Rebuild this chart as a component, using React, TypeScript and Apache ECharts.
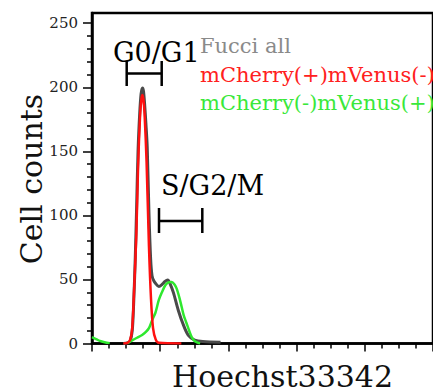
import React, { useEffect, useRef } from "react";
import * as echarts from "echarts";

// Hoechst33342 channel positions (arbitrary units) and cell counts
const grayX = [92, 104, 112, 118, 122, 127, 131, 135, 140, 144, 148, 151, 154, 158, 162, 167, 172, 176, 181, 186, 196, 207, 214, 222, 230, 239, 253, 268, 282, 301, 325, 377];
const grayY = [0, 0.5, 2, 10, 30, 68, 108, 150, 180, 195, 199.5, 197, 188, 172, 153, 102, 66, 53, 49, 47, 44.5, 46.5, 48.5, 49.5, 46, 39.5, 26, 14.5, 6.6, 2.7, 1.5, 1];

const redX = [92, 104, 112, 118, 124, 130, 135, 141, 145, 148, 151, 154, 160, 167, 173, 179, 187, 196, 262];
const redY = [0, 0.5, 3, 12, 45, 85, 137, 178, 191, 194, 190, 180, 142, 76, 35, 12, 3, 0.5, 0];

const greenX = [0, 12, 23, 37, 52, 60, 104, 118, 132, 147, 158, 167, 176, 186, 196, 205, 215, 224, 234, 242, 248, 256, 263, 269, 277, 285, 292, 299, 308, 317];
const greenY: (number | null)[] = [5, 3.5, 2, 1, 0.3, null, 0.3, 2.5, 4.5, 6.6, 9, 12, 18, 24, 34, 40, 45.5, 47.7, 48, 46, 43, 36, 28.5, 22, 16, 10, 5.3, 2.5, 0.8, 0];

const yTicks = [0, 50, 100, 150, 200, 250];
const yMinorTicks = [10, 20, 30, 40, 60, 70, 80, 90, 110, 120, 130, 140, 160, 170, 180, 190, 210, 220, 230, 240];

const seriesNames = ["Fucci all", "mCherry(+)mVenus(-)", "mCherry(-)mVenus(+)"];
const phaseLabels = ["G0/G1", "S/G2/M"];
const xTitle = "Hoechst33342";
const yTitle = "Cell counts";

const FONT = "DejaVu Serif";

function pairs(xs: number[], ys: (number | null)[]) {
  return xs.map((x, i) => [x, ys[i]]);
}

export default function App() {
  const ref = useRef<HTMLDivElement>(null);
  useEffect(() => {
    if (!ref.current) return;
    const chart = echarts.init(ref.current, null, { renderer: "svg" });
    const black = "#000";
    const bracket = (x1: number, x2: number, yMid: number, yTop: number, yBot: number) => [
      { type: "line", shape: { x1, y1: yMid, x2, y2: yMid }, style: { stroke: black, lineWidth: 2.5 } },
      { type: "line", shape: { x1, y1: yTop, x2: x1, y2: yBot }, style: { stroke: black, lineWidth: 2.5 } },
      { type: "line", shape: { x1: x2, y1: yTop, x2, y2: yBot }, style: { stroke: black, lineWidth: 2.5 } },
    ];
    const txt = (text: string, x: number, y: number, size: number, fill: string, align = "left", rotation = 0) => ({
      type: "text",
      x,
      y,
      rotation,
      style: { text, fontFamily: FONT, fontSize: size, fill, textAlign: align, textVerticalAlign: "middle" },
    });
    chart.setOption({
      animation: false,
      backgroundColor: "#fff",
      grid: {
        left: 92,
        top: 13,
        width: 347.5,
        height: 330.5,
        show: true,
        borderColor: black,
        borderWidth: 2.5,
      },
      xAxis: {
        type: "value",
        min: 0,
        max: 1000,
        interval: 200,
        axisLine: { show: true, onZero: false, lineStyle: { color: black, width: 2.5 } },
        axisTick: { show: true, length: 8, lineStyle: { color: black, width: 1.5 } },
        minorTick: { show: true, splitNumber: 4, length: 5, lineStyle: { color: black, width: 1.5 } },
        axisLabel: { show: false },
        splitLine: { show: false },
      },
      yAxis: [
        {
          type: "value",
          min: 0,
          max: 258,
          interval: 50,
          axisLine: { show: true, lineStyle: { color: black, width: 2.5 } },
          axisTick: { show: true, length: 9, customValues: yTicks, lineStyle: { color: black, width: 1.5 } },
          axisLabel: {
            show: true,
            customValues: yTicks,
            margin: 14,
            fontFamily: FONT,
            fontSize: 15,
            color: "#222",
          },
          splitLine: { show: false },
        },
        {
          type: "value",
          min: 0,
          max: 258,
          position: "left",
          axisLine: { show: false },
          axisTick: { show: true, length: 5, customValues: yMinorTicks, lineStyle: { color: black, width: 1.5 } },
          axisLabel: { show: false },
          splitLine: { show: false },
        },
      ],
      series: [
        {
          name: seriesNames[0],
          type: "line",
          data: pairs(grayX, grayY),
          showSymbol: false,
          smooth: 0.3,
          lineStyle: { color: "#4a4a4a", width: 3 },
          z: 3,
        },
        {
          name: seriesNames[2],
          type: "line",
          data: pairs(greenX, greenY),
          showSymbol: false,
          smooth: 0.3,
          connectNulls: false,
          lineStyle: { color: "#2ee82e", width: 2.5 },
          z: 4,
        },
        {
          name: seriesNames[1],
          type: "line",
          data: pairs(redX, redY),
          showSymbol: false,
          smooth: 0.3,
          lineStyle: { color: "#ff1010", width: 2.5 },
          z: 5,
        },
      ],
      graphic: [
        ...bracket(126.7, 161.7, 73.5, 61, 86),
        ...bracket(159, 202.3, 221, 208, 233),
        txt(phaseLabels[0], 113, 52.5, 27, black),
        txt(phaseLabels[1], 161, 185.5, 27, black),
        txt(seriesNames[0], 200, 45.5, 21, "#8a8a8a"),
        txt(seriesNames[1], 200, 74.5, 21, "#ff2020"),
        txt(seriesNames[2], 200, 102.5, 21, "#3ae83a"),
        txt(xTitle, 282.5, 376, 30, "#111", "center"),
        txt(yTitle, 31.5, 179, 30, "#111", "center", Math.PI / 2),
      ],
    });
    return () => chart.dispose();
  }, []);
  return (
    <div
      ref={ref}
      style={{ position: "fixed", left: 0, top: 0, width: 433, height: 389, background: "#fff" }}
    />
  );
}
